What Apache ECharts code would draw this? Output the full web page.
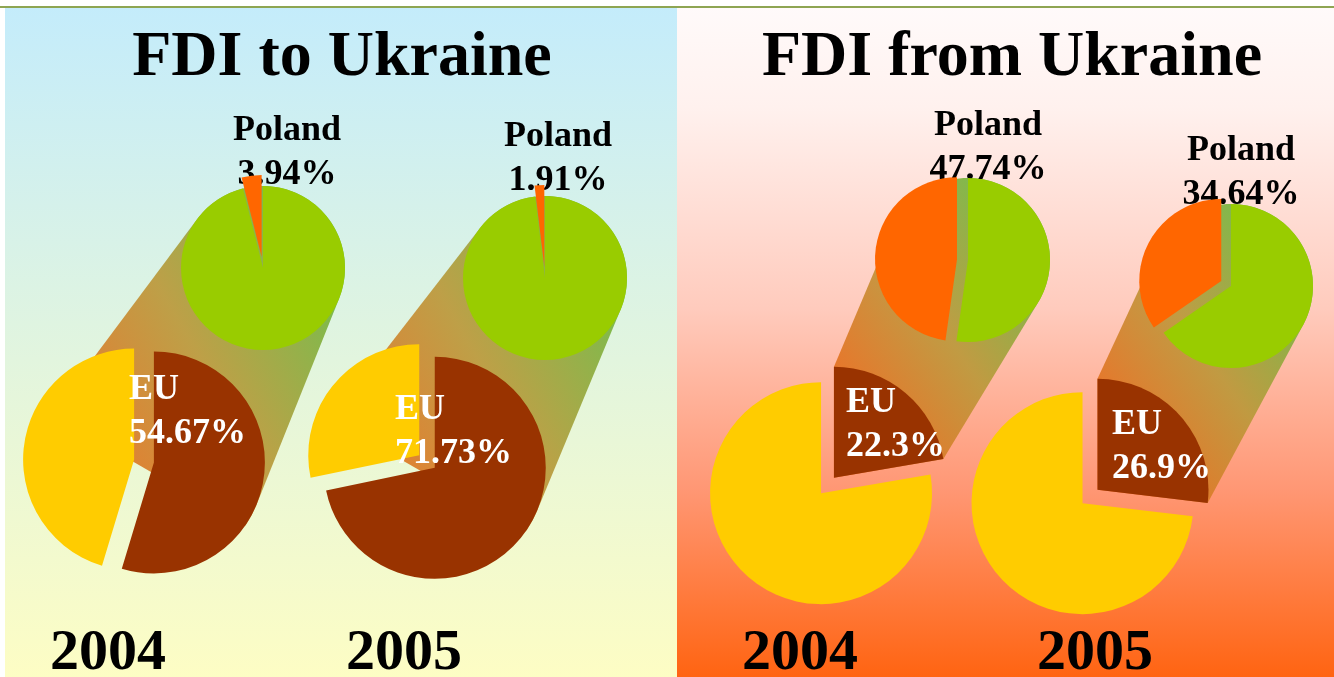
<!DOCTYPE html>
<html>
<head>
<meta charset="utf-8">
<title>FDI Ukraine - EU - Poland</title>
<script src="https://cdn.jsdelivr.net/npm/echarts/dist/echarts.min.js"></script>
<style>
    html, body { margin: 0; padding: 0; background: #fff; }
    #fdi_chart { width: 1334px; height: 677px; }
</style>
</head>
<body>
<div id="fdi_chart"></div>
<script>
// data
var years = ['2004', '2005'];
var panelTitles = ['FDI to Ukraine', 'FDI from Ukraine'];
// EU share of all FDI, %
var euShareTo = [54.67, 71.73];
var euShareFrom = [22.3, 26.9];
// Poland share inside the EU part, %
var polandShareTo = [3.94, 1.91];
var polandShareFrom = [47.74, 34.64];

var BROWN = '#993300', YELLOW = '#ffcc00', GREEN = '#99cc00', ORANGE = '#ff6600';
var SERIF = '"Liberation Serif", "Times New Roman", serif';
var R_MAIN = 111, R_TOP = 82, OFF_MAIN = 10, OFF_TOP = 11;

// layout of the 2 panels (pixels)
var panels = [
    {
        eu: euShareTo, poland: polandShareTo, titleX: 342, yearX: [108, 404],
        main: [[144, 461], [427, 461.5]], top: [[263, 268], [545, 278]],
        euLabel: [[129, 368], [395, 388]], polLabel: [[287, 109], [558, 115]],
        wholeBand: true
    },
    {
        eu: euShareFrom, poland: polandShareFrom, titleX: 1012, yearX: [800, 1095],
        main: [[827.5, 485.5], [1090, 496.5]], top: [[968, 260], [1231, 286]],
        euLabel: [[846, 381], [1112, 403]], polLabel: [[988, 104], [1241, 129]],
        wholeBand: false
    }
];

function dir(deg) {
    var a = deg * Math.PI / 180;
    return [Math.sin(a), -Math.cos(a)];
}

function hull(pts) {
    pts.sort(function (a, b) { return a[0] - b[0] || a[1] - b[1]; });
    var cross = function (o, a, b) {
        return (a[0] - o[0]) * (b[1] - o[1]) - (a[1] - o[1]) * (b[0] - o[0]);
    };
    var lower = [], upper = [], i, p;
    for (i = 0; i < pts.length; i++) {
        p = pts[i];
        while (lower.length >= 2 && cross(lower[lower.length - 2], lower[lower.length - 1], p) <= 0) lower.pop();
        lower.push(p);
    }
    for (i = pts.length - 1; i >= 0; i--) {
        p = pts[i];
        while (upper.length >= 2 && cross(upper[upper.length - 2], upper[upper.length - 1], p) <= 0) upper.pop();
        upper.push(p);
    }
    lower.pop();
    upper.pop();
    return lower.concat(upper);
}

// band between the EU slice and the small pie
function band(center, eu, topCenter, whole) {
    var euAngle = eu * 3.6;
    var d = dir(euAngle / 2);
    var v = [center[0] + OFF_MAIN * d[0], center[1] + OFF_MAIN * d[1]];
    // left panel: band hugs the upper arc of the EU circle, right panel: only the EU slice
    var from = whole ? -65 : 0, to = whole ? 125 : euAngle;
    var pts = [v.slice()], a, q;
    for (a = from; a < to; a += 2) {
        q = dir(a);
        pts.push([v[0] + R_MAIN * q[0], v[1] + R_MAIN * q[1]]);
    }
    q = dir(to);
    pts.push([v[0] + R_MAIN * q[0], v[1] + R_MAIN * q[1]]);
    for (a = 0; a < 360; a += 3) {
        q = dir(a);
        pts.push([topCenter[0] + R_TOP * q[0], topCenter[1] + R_TOP * q[1]]);
    }
    return {
        type: 'polygon',
        z: 1,
        silent: true,
        shape: { points: hull(pts) },
        style: {
            opacity: 0.92,
            fill: new echarts.graphic.LinearGradient(0, 0.75, 1, 0.25, [
                { offset: 0, color: '#ec6a1c' },
                { offset: 0.5, color: '#bb983a' },
                { offset: 1, color: '#68bb40' }
            ])
        }
    };
}

function pieBase(center, r, off, mode) {
    return {
        type: 'pie',
        center: center,
        radius: r,
        startAngle: 90,
        clockwise: true,
        selectedMode: mode,
        selectedOffset: off,
        silent: true,
        animation: false,
        z: 3,
        itemStyle: { borderWidth: 0 },
        label: { show: false },
        labelLine: { show: false },
        emphasis: { disabled: true }
    };
}

function mainPie(center, eu) {
    var s = pieBase(center, R_MAIN, OFF_MAIN, 'multiple');
    s.data = [
        { name: 'EU', value: eu, selected: true, itemStyle: { color: BROWN } },
        { name: 'Other', value: +(100 - eu).toFixed(2), selected: true, itemStyle: { color: YELLOW } }
    ];
    return s;
}

function topPie(center, pol) {
    var s = pieBase(center, R_TOP, OFF_TOP, 'single');
    s.data = [
        { name: 'Other EU', value: +(100 - pol).toFixed(2), itemStyle: { color: GREEN } },
        { name: 'Poland', value: pol, selected: true, itemStyle: { color: ORANGE } }
    ];
    return s;
}

function textTitle(text, at, align, size, color, lh, z) {
    return {
        text: text,
        left: at[0], top: at[1], textAlign: align, padding: 0,
        z: z || 6,
        textStyle: { fontSize: size, lineHeight: lh || size, fontWeight: 'bold', fontFamily: SERIF, color: color }
    };
}

var series = [], titles = [];
var graphics = [
    { type: 'rect', z: 0, silent: true, shape: { x: 0, y: 0, width: 1334, height: 677 }, style: { fill: '#ffffff' } },
    {
        type: 'rect', z: 0, silent: true, shape: { x: 5, y: 7, width: 672, height: 670 },
        style: { fill: new echarts.graphic.LinearGradient(0, 0, 0, 1, [
            { offset: 0, color: '#c4ecfb' }, { offset: 1, color: '#fdfdc4' }
        ]) }
    },
    {
        type: 'rect', z: 0, silent: true, shape: { x: 677, y: 7, width: 657, height: 670 },
        style: { fill: new echarts.graphic.LinearGradient(0, 0, 0, 1, [
            { offset: 0, color: '#fffafa' }, { offset: 0.15, color: '#fff1ee' },
            { offset: 0.45, color: '#ffcbbd' }, { offset: 0.72, color: '#ff9774' },
            { offset: 1, color: '#ff6412' }
        ]) }
    },
    { type: 'rect', z: 0, silent: true, shape: { x: 0, y: 6, width: 1334, height: 2 }, style: { fill: '#8ea552' } }
];

panels.forEach(function (pn, k) {
    titles.push(textTitle(panelTitles[k], [pn.titleX, 26], 'center', 64, '#000'));
    years.forEach(function (y, i) {
        graphics.push(band(pn.main[i], pn.eu[i], pn.top[i], pn.wholeBand));
        series.push(mainPie(pn.main[i], pn.eu[i]));
        series.push(topPie(pn.top[i], pn.poland[i]));
        titles.push(textTitle('EU\n' + pn.eu[i] + '%', pn.euLabel[i], 'left', 36, '#fff', 44));
        // Poland labels sit under the small pies, as on the slide
        titles.push(textTitle('Poland\n' + pn.poland[i] + '%', pn.polLabel[i], 'center', 36, '#000', 44, 2));
        titles.push(textTitle(y, [pn.yearX[i], 625], 'center', 58, '#000'));
    });
});

var chart = echarts.init(document.getElementById('fdi_chart'));
chart.setOption({
    animation: false,
    title: titles,
    graphic: { elements: graphics },
    series: series
});

window.addEventListener('resize', function () {
    chart.resize();
});
</script>
</body>
</html>
